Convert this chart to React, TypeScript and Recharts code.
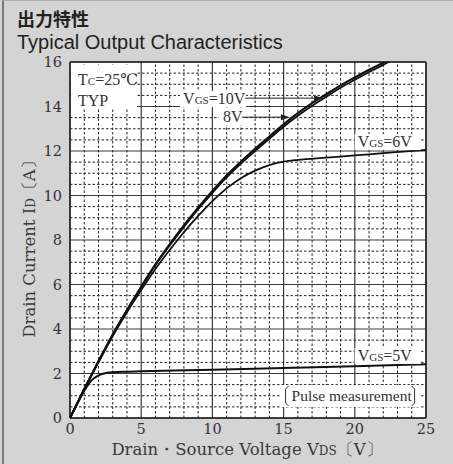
import { LineChart, Line, XAxis, YAxis, CartesianGrid, ReferenceLine, ReferenceDot } from 'recharts'

// axis ticks
const vdsTicks = [0, 5, 10, 15, 20, 25]
const idTicks = [0, 2, 4, 6, 8, 10, 12, 14, 16]
const vdsMinorTicks = Array.from({ length: 26 }, (_, i) => i).filter((t) => t % 5 !== 0)
const idMinorTicks = Array.from({ length: 33 }, (_, i) => i * 0.5).filter((t) => t % 2 !== 0)

// VGS = 10V
const vgs10Vds = [0, 1, 2, 3, 4, 5, 6, 7, 8, 9, 10, 11, 12, 13, 14, 15, 16, 17, 18, 19, 20, 21, 22, 23]
const vgs10Id = [0, 1.3, 2.55, 3.75, 4.85, 5.9, 6.9, 7.8, 8.65, 9.45, 10.2, 10.9, 11.52, 12.1, 12.65, 13.2, 13.7, 14.15, 14.55, 14.95, 15.3, 15.65, 15.97, 16.3]

// VGS = 8V
const vgs8Vds = [0, 1, 2, 3, 4, 5, 6, 7, 8, 9, 10, 11, 12, 13, 14, 15, 16, 17, 18, 19, 20, 21, 22, 23, 24]
const vgs8Id = [0, 1.3, 2.54, 3.73, 4.83, 5.87, 6.86, 7.75, 8.59, 9.38, 10.12, 10.81, 11.43, 12.0, 12.55, 13.09, 13.58, 14.03, 14.44, 14.84, 15.2, 15.55, 15.87, 16.2, 16.5]

// VGS = 6V
const vgs6Vds = [0, 1, 2, 3, 4, 5, 6, 7, 8, 9, 10, 11, 12, 13, 14, 15, 16, 18, 20, 22, 25]
const vgs6Id = [0, 1.28, 2.5, 3.68, 4.75, 5.75, 6.7, 7.55, 8.35, 9.08, 9.75, 10.32, 10.78, 11.12, 11.37, 11.52, 11.6, 11.7, 11.8, 11.9, 12.05]

// VGS = 5V
const vgs5Vds = [0, 0.5, 1, 1.5, 2, 2.5, 3, 4, 5, 10, 15, 20, 25]
const vgs5Id = [0, 0.63, 1.22, 1.68, 1.92, 2.02, 2.06, 2.08, 2.1, 2.17, 2.25, 2.33, 2.42]

const toPoints = (xs: number[], ys: number[]) => xs.map((x, i) => ({ vds: x, id: ys[i] }))

const serif = '"DejaVu Serif", serif'
const times = '"Liberation Serif", "DejaVu Serif", "Noto Sans CJK JP", serif'

const Arrow = ({ x1, x2, y }: { x1: number; x2: number; y: number }) => (
  <g>
    <line x1={x1} y1={y} x2={x2 - 6} y2={y} stroke="#222" strokeWidth={1} />
    <polygon points={`${x2},${y} ${x2 - 9},${y - 3} ${x2 - 9},${y + 3}`} fill="#222" />
  </g>
)

const tcNote = (p: any) => {
  const { x, y } = p.viewBox
  return (
    <g>
      <rect x={x + 1} y={y + 3} width={66} height={43} fill="#fff" />
      <text x={x + 8} y={y + 23} fontFamily={times} fontSize={16} fill="#333">
        T<tspan fontSize={11}>C</tspan>=25℃
      </text>
      <text x={x + 8} y={y + 44} fontFamily={times} fontSize={16} fill="#333">TYP</text>
    </g>
  )
}

const vgsNote = (value: string, arrowEnd?: number) => (p: any) => {
  const { x, y } = p.viewBox
  return (
    <g>
      <rect x={x - 3} y={y - 8} width={66} height={16} fill="#fff" />
      <text x={x} y={y + 5} fontFamily={times} fontSize={16} fill="#333">
        V<tspan fontSize={11}>GS</tspan>={value}
      </text>
      {arrowEnd ? <Arrow x1={x + 62} x2={x + arrowEnd} y={y - 1} /> : null}
    </g>
  )
}

const v8Note = (p: any) => {
  const { x, y } = p.viewBox
  return (
    <g>
      <rect x={x - 4} y={y - 8} width={24} height={16} fill="#fff" />
      <text x={x} y={y + 5} fontFamily={times} fontSize={16} fill="#333">8V</text>
      <Arrow x1={x + 19} x2={x + 67} y={y} />
    </g>
  )
}

const pulseNote = (p: any) => {
  const { x, y } = p.viewBox
  return (
    <g>
      <rect x={x - 3} y={y - 11} width={140} height={22} fill="#fff" />
      <path d={`M${x + 5},${y - 10} L${x + 2},${y - 7} L${x + 2},${y + 7} L${x + 5},${y + 10}`} stroke="#333" fill="none" strokeWidth={1} />
      <text x={x + 8} y={y + 5} fontFamily={times} fontSize={15.5} fill="#333">Pulse measurement</text>
      <path d={`M${x + 128},${y - 10} L${x + 131},${y - 7} L${x + 131},${y + 7} L${x + 128},${y + 10}`} stroke="#333" fill="none" strokeWidth={1} />
    </g>
  )
}

export default function App() {
  return (
    <div style={{ position: 'relative', width: 453, height: 464, background: '#d4d4d4' }}>
      <style>{'body{margin:0}'}</style>
      <LineChart width={453} height={464} margin={{ top: 62, right: 27, bottom: 0, left: 0 }}>
        <XAxis
          type="number"
          dataKey="vds"
          domain={[0, 25]}
          ticks={vdsTicks}
          height={46}
          axisLine={false}
          tickLine={false}
          tickSize={4}
          tick={{ fill: '#333', fontSize: 14.5, fontFamily: serif }}
        />
        <YAxis
          type="number"
          domain={[0, 16]}
          ticks={idTicks}
          width={70}
          allowDataOverflow
          axisLine={false}
          tickLine={false}
          tick={{ fill: '#333', fontSize: 14.5, fontFamily: serif }}
        />
        <CartesianGrid fill="#fff" stroke="#3a3a3a" strokeWidth={1.2} />
        {/* minor dashed grid */}
        {vdsMinorTicks.map((t) => (
          <ReferenceLine key={`vx${t}`} x={t} stroke="#222" strokeWidth={1} strokeDasharray="2.5 2" zIndex={-90} />
        ))}
        {idMinorTicks.map((t) => (
          <ReferenceLine key={`hy${t}`} y={t} stroke="#222" strokeWidth={1} strokeDasharray="2.5 2" zIndex={-90} />
        ))}
        <ReferenceLine x={0} stroke="#222" strokeWidth={1.5} />
        <ReferenceLine x={25} stroke="#222" strokeWidth={1.5} />
        <ReferenceLine y={0} stroke="#222" strokeWidth={1.5} />
        <ReferenceLine y={16} stroke="#222" strokeWidth={1.5} />

        <ReferenceDot x={0} y={16} r={0} stroke="none" label={{ content: tcNote }} />
        <ReferenceDot x={7.94} y={14.33} r={0} stroke="none" label={{ content: vgsNote('10V', 140) }} />
        <ReferenceDot x={10.74} y={13.52} r={0} stroke="none" label={{ content: v8Note }} />
        <ReferenceDot x={20.2} y={12.4} r={0} stroke="none" label={{ content: vgsNote('6V') }} />
        <ReferenceDot x={20.2} y={2.79} r={0} stroke="none" label={{ content: vgsNote('5V') }} />
        <ReferenceDot x={15.0} y={0.99} r={0} stroke="none" label={{ content: pulseNote }} />

        <Line data={toPoints(vgs5Vds, vgs5Id)} dataKey="id" type="monotone" stroke="#111" strokeWidth={2} dot={false} isAnimationActive={false} />
        <Line data={toPoints(vgs6Vds, vgs6Id)} dataKey="id" type="monotone" stroke="#111" strokeWidth={1.8} dot={false} isAnimationActive={false} />
        <Line data={toPoints(vgs8Vds, vgs8Id)} dataKey="id" type="monotone" stroke="#111" strokeWidth={1.8} dot={false} isAnimationActive={false} />
        <Line data={toPoints(vgs10Vds, vgs10Id)} dataKey="id" type="monotone" stroke="#111" strokeWidth={2.2} dot={false} isAnimationActive={false} />
      </LineChart>
      <svg width={453} height={464} style={{ position: 'absolute', left: 0, top: 0, pointerEvents: 'none' }}>
        <line x1={3} y1={0} x2={3} y2={464} stroke="#7a7a7a" strokeWidth={2} />
        <line x1={3} y1={0.5} x2={453} y2={0.5} stroke="#aaa" strokeWidth={1} />
        <text x={17} y={26} fontFamily='"Noto Sans CJK JP", sans-serif' fontWeight={700} fontSize={18} fill="#222">出力特性</text>
        <text x={17} y={49} fontFamily='"Liberation Sans", Arial, sans-serif' fontSize={20} fill="#222">Typical Output Characteristics</text>
        <text x={247} y={455} textAnchor="middle" fontFamily={serif} fontSize={16.5} fill="#3a3a3a">
          Drain・Source Voltage  V<tspan fontSize={12}>DS</tspan>〔V〕
        </text>
        <text transform="translate(35,245) rotate(-90)" textAnchor="middle" fontFamily={serif} fontSize={16.5} fill="#3a3a3a">
          Drain Current  I<tspan fontSize={12}>D</tspan>〔A〕
        </text>
      </svg>
    </div>
  )
}
